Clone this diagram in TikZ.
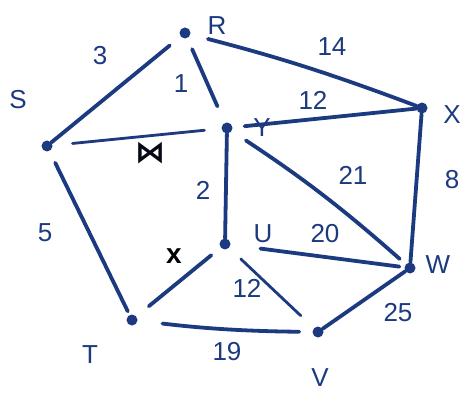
\documentclass[tikz,border=0pt]{standalone}
\usepackage{fontspec}
\setmainfont{Liberation Sans}
\newfontfamily\symfont{DejaVu Sans}
\definecolor{ink}{HTML}{1C3A80}
\begin{document}
\begin{tikzpicture}[x=1pt,y=-1pt,
  vtx/.style={circle,fill=ink,inner sep=0pt,minimum size=11pt},
  edge/.style={draw=ink,line width=3.8pt,line cap=round},
  thin edge/.style={draw=ink,line width=2.8pt,line cap=round},
  lbl/.style={text=ink,font=\fontsize{26}{26}\selectfont,inner sep=0pt}]
\useasboundingbox (0,0) rectangle (461,393);
\fill[white] (0,0) rectangle (461,393);
% vertices
\node[vtx] (R) at (185,33) {};
\node[vtx] (S) at (47,146) {};
\node[vtx] (Y) at (227,128) {};
\node[vtx] (X) at (422,108) {};
\node[vtx] (U) at (225,244) {};
\node[vtx] (W) at (410,268) {};
\node[vtx] (T) at (132,320) {};
\node[vtx] (V) at (318,332) {};
% edges
\draw[edge,shorten >=14pt] (S) -- (R);
\draw[edge,shorten <=18pt] (R) to[bend left=3] (X);
\draw[edge,shorten <=12pt,shorten >=18pt] (R) -- (Y);
\draw[thin edge,shorten <=20pt,shorten >=17pt] (S) -- (Y);
\draw[edge,shorten <=13pt,shorten >=4pt] (S) -- (T);
\draw[edge,shorten <=12pt] (Y) -- (X);
\draw[edge,shorten <=17pt,shorten >=8pt] (Y) to[bend left=4] (W);
\draw[edge] (Y) -- (U);
\draw[edge] (X) -- (W);
\draw[edge,shorten <=30pt,shorten >=5pt] (U) -- (W);
\draw[edge,shorten <=12pt,shorten >=16pt] (U) -- (T);
\draw[thin edge,shorten <=16pt,shorten >=18pt] (U) -- (V);
\draw[edge,shorten <=25pt,shorten >=13pt] (T) to[bend right=3] (V);
\draw[edge] (V) -- (W);
% vertex letters
\node[lbl] (lR) at (217,26) {R};
\node[lbl] (lS) at (18,100) {S};
\node[lbl] (lY) at (262,128) {Y};
\node[lbl] (lX) at (452,115) {X};
\node[lbl] (lU) at (263,234) {U};
\node[lbl] (lW) at (438,265) {W};
\node[lbl] (lT) at (90,355) {T};
\node[lbl] (lV) at (320,378) {V};
% weights
\node[lbl] (w3) at (100,56) {3};
\node[lbl] (w14) at (332,47) {14};
\node[lbl] (w1) at (181,84) {1};
\node[lbl] (w12a) at (313,100) {12};
\node[lbl] (w8) at (452,180) {8};
\node[lbl] (w21) at (353,175) {21};
\node[lbl] (w2) at (203,190) {2};
\node[lbl] (w20) at (325,234) {20};
\node[lbl] (w5) at (45,233) {5};
\node[lbl] (w12b) at (247,288) {12};
\node[lbl] (w19) at (227,352) {19};
\node[lbl] (w25) at (398,313) {25};
% crossed-out marks
\node[text=black!85!ink,font=\symfont\fontsize{30}{30}\selectfont\bfseries,inner sep=0pt] (c1) at (150,153) {⋈};
\node[text=black,font=\fontsize{28}{28}\selectfont\bfseries,inner sep=0pt] (c2) at (174,256) {x};
\end{tikzpicture}
\end{document}
